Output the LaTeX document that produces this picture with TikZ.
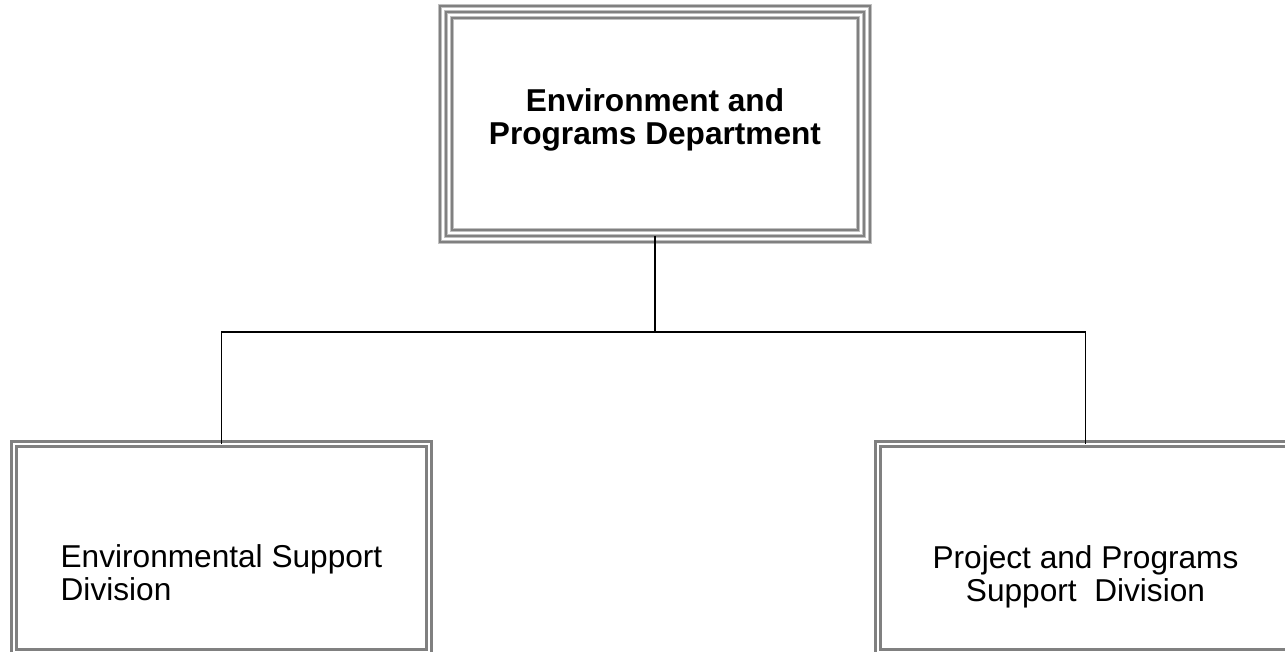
\documentclass[tikz,border=0pt]{standalone}
\usepackage{fontspec}
\setmainfont{Liberation Sans}
\usetikzlibrary{positioning}
\definecolor{framedark}{RGB}{128, 128, 128}
\definecolor{framelight}{RGB}{192, 192, 192}

\begin{document}
\begin{tikzpicture}[
  x=0.02cm, y=-0.02cm,
  unit/.style={rectangle, draw=none, inner sep=0pt, outer sep=0pt,
               minimum width=#1},
  frame/.style={preaction={draw=framelight, line width=2.1pt},
                draw=framedark, line width=1.3pt},
  label/.style={font=\fontsize{18}{18.7}\selectfont, inner sep=0pt},
  link/.style={draw=black, line width=1.1pt}
]
  \useasboundingbox (0,0) rectangle (1285,652);

  %% Department and divisions
  \node[unit=8.6cm, minimum height=4.72cm]  (dept) at (655,124) {};
  \node[unit=8.4cm, minimum height=4.26cm]  (env)  at (221.5,548) {};
  \node[unit=8.4cm, minimum height=4.26cm]  (proj) at (1085.5,548) {};

  %% Frames
  \draw[frame] (dept.north west) rectangle (dept.south east);
  \draw[frame] ([shift={(0.12cm,-0.12cm)}]dept.north west)
    rectangle ([shift={(-0.12cm,0.12cm)}]dept.south east);
  \draw[frame] ([shift={(0.24cm,-0.24cm)}]dept.north west)
    rectangle ([shift={(-0.24cm,0.24cm)}]dept.south east);
  \foreach \n in {env, proj} {
    \draw[frame] (\n.north west) rectangle (\n.south east);
    \draw[frame] ([shift={(0.1cm,-0.1cm)}]\n.north west)
      rectangle ([shift={(-0.1cm,0.1cm)}]\n.south east);
  }

  %% Texts
  \node[label, font=\fontsize{18}{18.7}\selectfont\bfseries, align=center]
    (deptname) at (655,120) {Environment and\\Programs Department};
  \node[label, align=left] (envname) at (221.5,573)
    {Environmental Support\\Division};
  \node[label, align=center] (projname) at (1085.5,577)
    {Project and Programs\\Support\ \ Division};

  %% Connectors
  \coordinate (split) at (655,332);
  \draw[link] ([yshift=0.12cm]dept.south) -- (split);
  \draw[link] ([yshift=-0.05cm]env.north) |- (split)
    -| ([yshift=-0.05cm]proj.north);
\end{tikzpicture}
\end{document}
